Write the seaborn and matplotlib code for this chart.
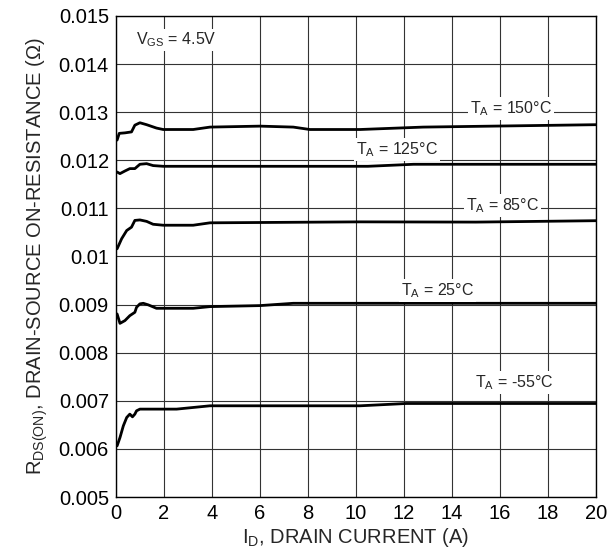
import matplotlib
matplotlib.use("Agg")
import matplotlib.pyplot as plt
import pandas as pd
import seaborn as sns

# ==========================================================
# Data (ID in A, RDS(on) in ohm)
# ==========================================================

x_150 = [0.05, 0.14, 0.375, 0.65, 0.79, 1.0, 1.28, 1.69, 1.97, 3.22, 3.92, 6.0, 7.39, 8.08, 10.17, 12.8, 20.0]
y_150 = [0.01242, 0.01256, 0.01257, 0.01259, 0.01273, 0.01278, 0.01274, 0.01267, 0.01264, 0.01264,
         0.01269, 0.01271, 0.01269, 0.01264, 0.01264, 0.01269, 0.01274]

x_125 = [0.05, 0.17, 0.375, 0.58, 0.79, 1.0, 1.28, 1.55, 1.97, 10.5, 12.4, 20.0]
y_125 = [0.011756, 0.011723, 0.011777, 0.011827, 0.011827, 0.011917, 0.01193, 0.01189, 0.011875,
         0.011875, 0.011917, 0.011917]

x_85 = [0.05, 0.24, 0.45, 0.65, 0.79, 1.0, 1.28, 1.55, 1.97, 3.22, 3.92, 10.17, 15.0, 20.0]
y_85 = [0.01016, 0.01037, 0.01054, 0.01061, 0.01075, 0.01076, 0.01073, 0.01067, 0.01065, 0.01065,
        0.0107, 0.01072, 0.010715, 0.010744]

x_25 = [0.05, 0.17, 0.375, 0.58, 0.79, 0.86, 1.0, 1.14, 1.35, 1.69, 3.22, 3.92, 6.0, 7.39, 10.17, 20.0]
y_25 = [0.008806, 0.00861, 0.008667, 0.00877, 0.00884, 0.008944, 0.009015, 0.009027, 0.008994,
        0.008923, 0.008923, 0.008958, 0.008979, 0.009027, 0.009027, 0.009027]

x_m55 = [0.05, 0.17, 0.31, 0.45, 0.58, 0.69, 0.79, 0.86, 1.0, 2.53, 3.92, 10.17, 12.1, 20.0]
y_m55 = [0.006063, 0.006236, 0.00648, 0.006653, 0.006723, 0.006667, 0.006723, 0.006792, 0.006827,
         0.006827, 0.006896, 0.006896, 0.006944, 0.006944]

curve_labels = [r"T$_\mathregular{A}$ = 150°C", r"T$_\mathregular{A}$ = 125°C",
                r"T$_\mathregular{A}$ = 85°C", r"T$_\mathregular{A}$ = 25°C",
                r"T$_\mathregular{A}$ = -55°C"]
label_x = [16.46, 11.7, 16.1, 13.4, 16.6]
label_y = [0.013083, 0.01223, 0.011063, 0.009292, 0.007375]

x_ticks = list(range(0, 21, 2))
y_ticks = [0.005, 0.006, 0.007, 0.008, 0.009, 0.01, 0.011, 0.012, 0.013, 0.014, 0.015]
y_tick_labels = ["0.005", "0.006", "0.007", "0.008", "0.009", "0.01",
                 "0.011", "0.012", "0.013", "0.014", "0.015"]

# ==========================================================
# Style
# ==========================================================

sns.set_style("white")
plt.rcParams["font.family"] = ["Liberation Sans", "DejaVu Sans"]
plt.rcParams["mathtext.fontset"] = "custom"
plt.rcParams["mathtext.rm"] = "Liberation Sans"
plt.rcParams["mathtext.it"] = "Liberation Sans"

fig = plt.figure(figsize=(6.10, 5.51), dpi=100)
ax = fig.add_axes([0.190, 0.098, 0.787, 0.873])

curves = [(x_150, y_150), (x_125, y_125), (x_85, y_85), (x_25, y_25), (x_m55, y_m55)]
for xs, ys in curves:
    df = pd.DataFrame({"ID": xs, "RDS": ys})
    sns.lineplot(data=df, x="ID", y="RDS", ax=ax, color="black", linewidth=2.0,
                 estimator=None, sort=False, zorder=3)

for txt, lx, ly in zip(curve_labels, label_x, label_y):
    ax.text(lx, ly, txt, ha="center", va="center", fontsize=11.5, zorder=4,
            bbox=dict(facecolor="white", edgecolor="none", pad=1.5))

ax.text(0.85, 0.0145, r"V$_\mathregular{GS}$ = 4.5V", ha="left", va="center", fontsize=11.5,
        zorder=4, bbox=dict(facecolor="white", edgecolor="none", pad=1.5))

ax.set_xlim(0, 20)
ax.set_ylim(0.005, 0.015)
ax.set_xticks(x_ticks)
ax.set_yticks(y_ticks)
ax.set_yticklabels(y_tick_labels)
ax.grid(True, color="#333333", linewidth=0.8)
ax.tick_params(axis="both", length=0, pad=5, labelsize=14.5, colors="black")

for sp in ax.spines.values():
    sp.set_color("black")
    sp.set_linewidth(1.0)

ax.set_xlabel(r"I$_\mathregular{D}$, DRAIN CURRENT (A)", fontsize=14.5, labelpad=2)
ax.set_ylabel(r"R$_\mathregular{DS(ON)}$, DRAIN-SOURCE ON-RESISTANCE (Ω)", fontsize=14.5, labelpad=6)

plt.savefig("out.png", dpi=100)
plt.close()
